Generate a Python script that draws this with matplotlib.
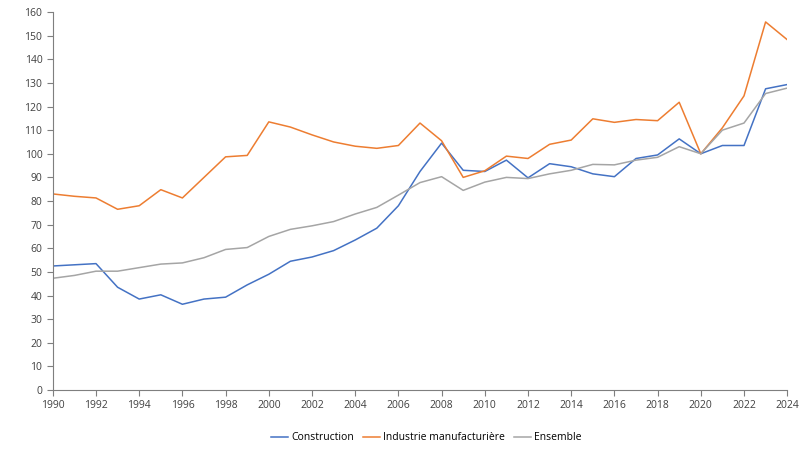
import matplotlib.pyplot as plt

years = list(range(1990, 2025))

construction = [52.5, 53, 53.5, 43.5, 38.5, 40.3, 36.3, 38.5, 39.3, 44.5,
                49, 54.5, 56.3, 59, 63.5, 68.5, 78, 92.5, 104.5, 93,
                92.5, 97.3, 89.8, 95.8, 94.5, 91.5, 90.3, 98, 99.5, 106.3,
                100, 103.5, 103.5, 127.5, 129.3]
industrie = [83, 82, 81.3, 76.5, 78, 84.8, 81.3, 90, 98.7, 99.3,
             113.5, 111.3, 108, 105, 103.2, 102.3, 103.5, 113, 105.5, 90,
             92.8, 99, 98, 104, 105.8, 114.8, 113.3, 114.5, 114, 121.8,
             100, 111, 124.5, 155.8, 148.3]
ensemble = [47.3, 48.5, 50.3, 50.3, 51.8, 53.3, 53.8, 56, 59.5, 60.3,
            65, 68, 69.5, 71.3, 74.5, 77.3, 82.5, 87.8, 90.3, 84.5,
            88, 90, 89.5, 91.5, 93, 95.5, 95.3, 97.3, 98.5, 103,
            100, 110, 113, 125.5, 127.8]

plt.rcParams['font.family'] = ['Open Sans', 'DejaVu Sans']

fig = plt.figure(figsize=(8, 4.5), dpi=100)
ax = fig.add_axes([0.066, 0.1333, 0.918, 0.84])

ax.plot(years, construction, color='#4472C4', lw=1.1, label='Construction')
ax.plot(years, industrie, color='#ED7D31', lw=1.1, label='Industrie manufacturière')
ax.plot(years, ensemble, color='#A5A5A5', lw=1.1, label='Ensemble')

ax.set_xlim(1990, 2024)
ax.set_ylim(0, 160)
ax.set_xticks(range(1990, 2025, 2))
ax.set_yticks(range(0, 161, 10))
ax.tick_params(labelsize=7.5, length=4, width=0.8, color='#7f7f7f', labelcolor='#404040')
for s in ['top', 'right']:
    ax.spines[s].set_visible(False)
for s in ['left', 'bottom']:
    ax.spines[s].set_color('#7f7f7f')
    ax.spines[s].set_linewidth(0.8)

fig.legend(loc='center', bbox_to_anchor=(0.533, 0.027), ncol=3, frameon=False,
           fontsize=7.5, handlelength=1.6, handletextpad=0.3, columnspacing=0.9)

fig.savefig('out.png', dpi=100)
